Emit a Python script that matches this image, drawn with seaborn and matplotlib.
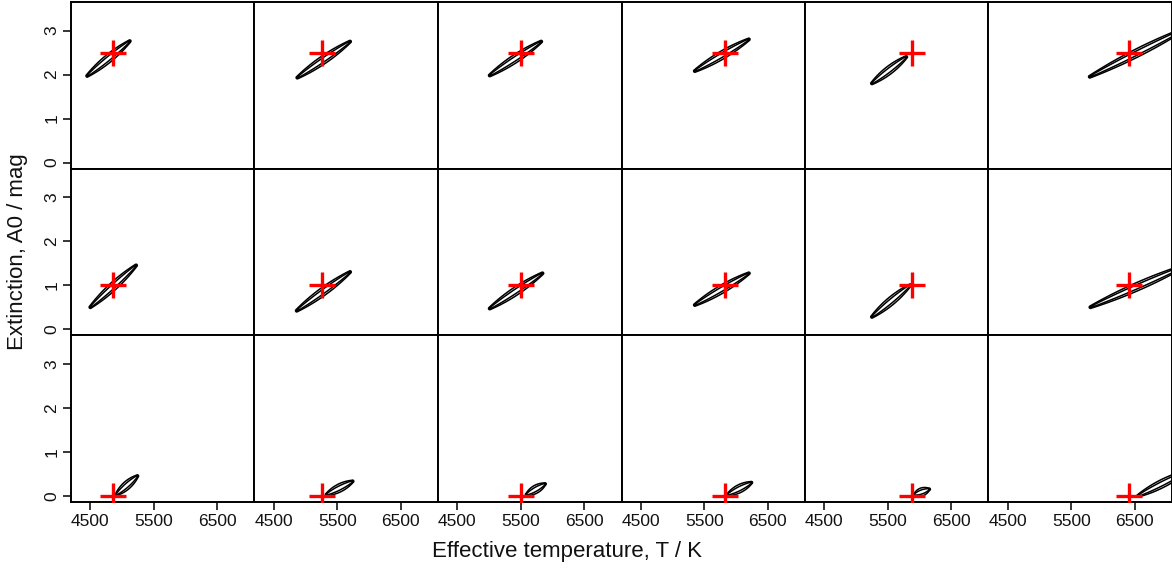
import numpy as np
import matplotlib
matplotlib.use("Agg")
import matplotlib.pyplot as plt
import seaborn as sns

# ---- data ----
teff_true = [4860, 5260, 5500, 5830, 5880, 6400]     # per column (K)
a0_true = [2.5, 1.0, 0.0]                            # per row (mag)

# posterior ridge segments: start/end (Teff, A0) per row, per column
row1_t0 = [4450, 4870, 5010, 5350, 5250, 5790]
row1_a0 = [1.97, 1.93, 1.98, 2.08, 1.80, 1.95]
row1_t1 = [5120, 5700, 5820, 6200, 5790, 7300]
row1_a1 = [2.76, 2.75, 2.75, 2.80, 2.40, 3.05]

row2_t0 = [4500, 4860, 5010, 5350, 5250, 5800]
row2_a0 = [0.50, 0.42, 0.47, 0.55, 0.28, 0.50]
row2_t1 = [5220, 5700, 5840, 6200, 5850, 7300]
row2_a1 = [1.45, 1.30, 1.27, 1.27, 1.00, 1.45]

row3_t0 = [4910, 5330, 5590, 5870, 5920, 6550]
row3_a0 = [0.03, 0.03, 0.03, 0.03, 0.03, 0.00]
row3_t1 = [5240, 5740, 5880, 6240, 6150, 7300]
row3_a1 = [0.45, 0.33, 0.27, 0.30, 0.15, 0.55]

x_ticks = [4500, 5500, 6500]
y_ticks = [0, 1, 2, 3]

segments = [
    (row1_t0, row1_a0, row1_t1, row1_a1),
    (row2_t0, row2_a0, row2_t1, row2_a1),
    (row3_t0, row3_a0, row3_t1, row3_a1),
]

XLIM = (4195, 7085)
YLIM = (-0.14, 3.65)

sns.set_theme(style="white")
plt.rcParams["font.family"] = ["Liberation Sans", "DejaVu Sans"]

fig, axes = plt.subplots(3, 6, figsize=(11.72, 5.70), dpi=100,
                         sharex=True, sharey=True)
fig.subplots_adjust(left=71/1172, right=1.0, top=1-2/570, bottom=1-502/570,
                    wspace=0, hspace=0)

# pixel scale of each panel (for an isotropic ridge width)
sx = 183.5 / (XLIM[1] - XLIM[0])
sy = 166.7 / (YLIM[1] - YLIM[0])

gx = np.linspace(XLIM[0], XLIM[1] + 400, 500)
gy = np.linspace(YLIM[0], YLIM[1], 400)
GX, GY = np.meshgrid(gx, gy)

for r in range(3):
    t0s, a0s, t1s, a1s = segments[r]
    for c in range(6):
        ax = axes[r, c]
        # ridge density in pixel space
        px0, py0 = t0s[c] * sx, a0s[c] * sy
        px1, py1 = t1s[c] * sx, a1s[c] * sy
        PX, PY = GX * sx, GY * sy
        dx, dy = px1 - px0, py1 - py0
        L2 = dx * dx + dy * dy
        t = ((PX - px0) * dx + (PY - py0) * dy) / L2
        tc = np.clip(t, 0, 1)
        d = np.hypot(PX - (px0 + tc * dx), PY - (py0 + tc * dy))
        w = 0.6 + 1.4 * 4 * tc * (1 - tc)
        dens = np.exp(-0.5 * (d / w) ** 2)
        dens[GY < 0] = 0
        ax.contour(GX, GY, dens, levels=[0.14, 0.6], colors="black",
                   linewidths=1.1)
        sns.scatterplot(x=[teff_true[c]], y=[a0_true[r]], ax=ax,
                        marker="+", s=330, color="#ff0000", linewidth=2.4,
                        zorder=5, legend=False)
        ax.set_xlim(*XLIM)
        ax.set_ylim(*YLIM)
        ax.set_xticks(x_ticks)
        ax.set_yticks(y_ticks)
        ax.set_xlabel("")
        ax.set_ylabel("")
        for sp in ax.spines.values():
            sp.set_visible(True)
            sp.set_color("black")
            sp.set_linewidth(1.4)
        ax.tick_params(axis="both", which="both", direction="out",
                       length=5.5, width=1.1, color="black",
                       labelsize=12.5, labelcolor="#111111", pad=3,
                       left=(c == 0), bottom=(r == 2),
                       labelleft=(c == 0), labelbottom=(r == 2))
        if c == 0:
            for lab in ax.get_yticklabels():
                lab.set_rotation(90)
                lab.set_va("center")

fig.text(567/1172, 1 - 552/570, "Effective temperature, T / K",
         ha="center", va="center", fontsize=16, color="#111111")
fig.text(18/1172, 1 - 252/570, "Extinction, A0 / mag", ha="center",
         va="center", rotation=90, fontsize=16, color="#111111")

fig.savefig("out.png", dpi=100)
